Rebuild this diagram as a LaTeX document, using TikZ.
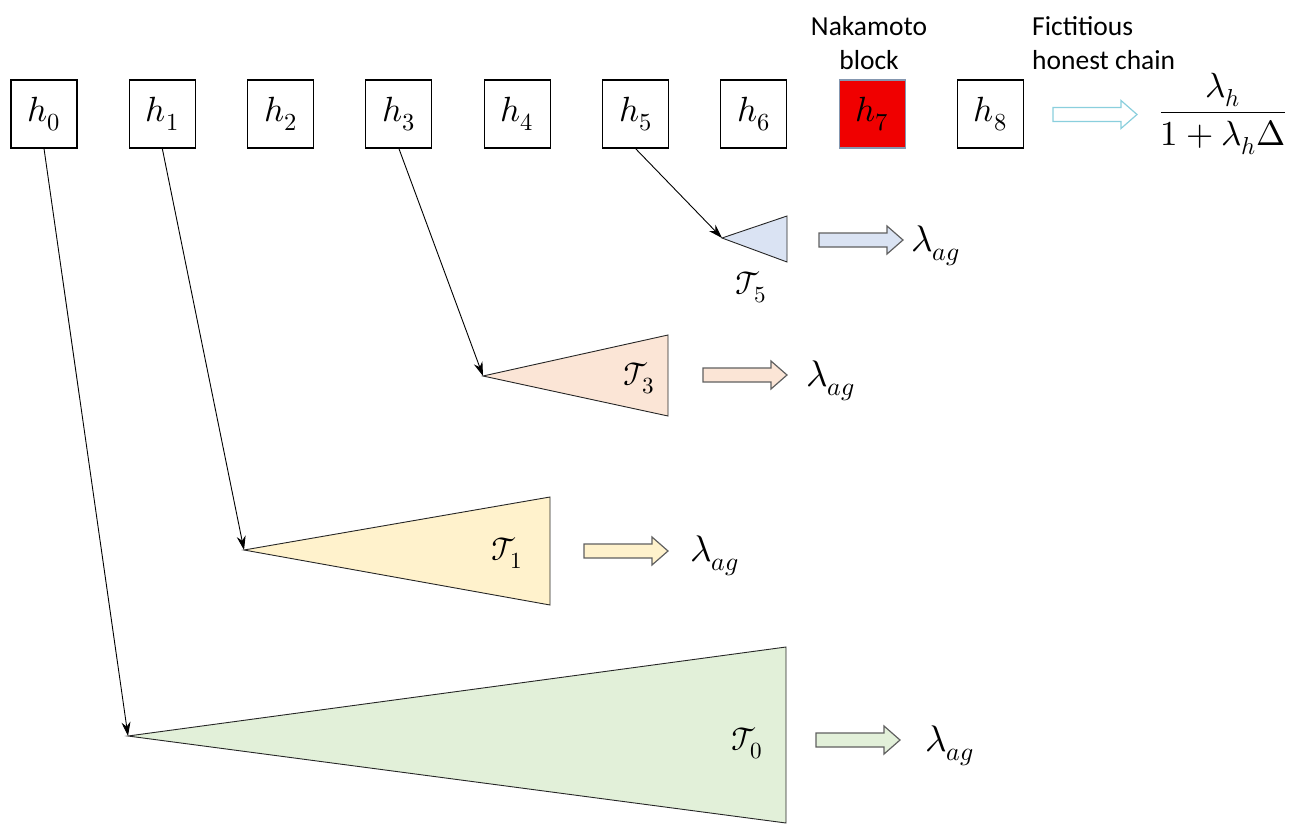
\documentclass[tikz,border=0pt]{standalone}
\usepackage{fontspec}
\usepackage{unicode-math}
\newfontfamily\calibrifont{Carlito}
\usetikzlibrary{arrows.meta}
\definecolor{triblue}{HTML}{DAE3F3}
\definecolor{triorange}{HTML}{FBE5D6}
\definecolor{triyellow}{HTML}{FFF2CC}
\definecolor{trigreen}{HTML}{E2F0D9}
\definecolor{arrowedge}{HTML}{606060}
\definecolor{aqua}{HTML}{8ACFDD}
\definecolor{nakared}{HTML}{F00000}
\definecolor{nakaedge}{HTML}{8497B0}
\newcommand\lblfont{\fontsize{35}{40}\selectfont}
\newcommand\lamfont{\fontsize{37}{42}\selectfont}
\newcommand\trifont{\fontsize{33}{38}\selectfont}
\newcommand\txtfont{\fontsize{27.5}{34}\selectfont\calibrifont}
\tikzset{
  hbox/.style={draw=black, line width=1.1pt, minimum width=66pt, minimum height=68pt, inner sep=0pt, font=\lblfont},
  tri/.style={draw=black!85, line width=0.9pt},
  link/.style={draw=black, line width=0.9pt, -{Stealth[length=14pt,width=9pt]}},
  fatarrow/.pic={
    \path[line width=1.2pt, pic actions] (-42,-7) -- (26,-7) -- (26,-14) -- (42,0)
      -- (26,14) -- (26,7) -- (-42,7) -- cycle;
  },
  mlabel/.style={font=\lblfont, inner sep=0pt},
  lamlabel/.style={font=\lamfont, inner sep=0pt, anchor=base west},
  tlabel/.style={font=\trifont, inner sep=0pt},
  toplabel/.style={font=\txtfont, inner sep=0pt, align=center}
}
\begin{document}
\begin{tikzpicture}[x=1pt,y=-1pt]
\useasboundingbox (0,0) rectangle (1291,825);

% chain boxes
\foreach \i in {0,...,6,8}{
  \node[hbox] (h\i) at ({44+118.3*\i},114) {$h_{\i}$};
}
\node[hbox, fill=nakared, draw=nakaedge] (h7) at ({44+118.3*7},114) {$h_{7}$};

% top labels
\node[toplabel] (naka) at (869,43) {Nakamoto\\block};
\node[toplabel, align=left, anchor=west] (fict) at (1032,43) {Fictitious\\honest chain};

% fictitious chain arrow and rate
\pic[draw=aqua, fill=white] (ha) at (1095,114.5) {fatarrow};
\node[mlabel] (rateh) at (1223,114) {$\dfrac{\lambda_h}{1+\lambda_h\Delta}$};

% tips
\coordinate (t5) at (722,238);
\coordinate (t3) at (483,376);
\coordinate (t1) at (244,550);
\coordinate (t0) at (128,736);

% triangles
\draw[tri, fill=triblue] (t5) -- (787,216) -- (787,262) -- cycle;
\draw[tri, fill=triorange] (t3) -- (668,335) -- (668,416) -- cycle;
\draw[tri, fill=triyellow] (t1) -- (550,497) -- (550,605) -- cycle;
\draw[tri, fill=trigreen] (t0) -- (786,647) -- (786,823) -- cycle;

% tree labels
\node[tlabel] (T5) at (751,287) {$\mathcal{T}_{\mkern-5mu 5}$};
\node[tlabel] (T3) at (639,378) {$\mathcal{T}_{\mkern-5mu 3}$};
\node[tlabel] (T1) at (507,553) {$\mathcal{T}_{\mkern-5mu 1}$};
\node[tlabel] (T0) at (747,743) {$\mathcal{T}_{\mkern-5mu 0}$};

% links from chain to trees
\draw[link] (h0.south) -- (t0);
\draw[link] (h1.south) -- (t1);
\draw[link] (h3.south) -- (t3);
\draw[link] (h5.south) -- (t5);

% adversarial rate arrows
\pic[draw=arrowedge, fill=triblue] (a5) at (861,240) {fatarrow};
\pic[draw=arrowedge, fill=triorange] (a3) at (745,375) {fatarrow};
\pic[draw=arrowedge, fill=triyellow] (a1) at (626,551) {fatarrow};
\pic[draw=arrowedge, fill=trigreen] (a0) at (858,740) {fatarrow};

\node[lamlabel] (l5) at (911,251) {$\lambda_{ag}$};
\node[lamlabel] (l3) at (806,386) {$\lambda_{ag}$};
\node[lamlabel] (l1) at (690,561) {$\lambda_{ag}$};
\node[lamlabel] (l0) at (925,751) {$\lambda_{ag}$};
\end{tikzpicture}
\end{document}
